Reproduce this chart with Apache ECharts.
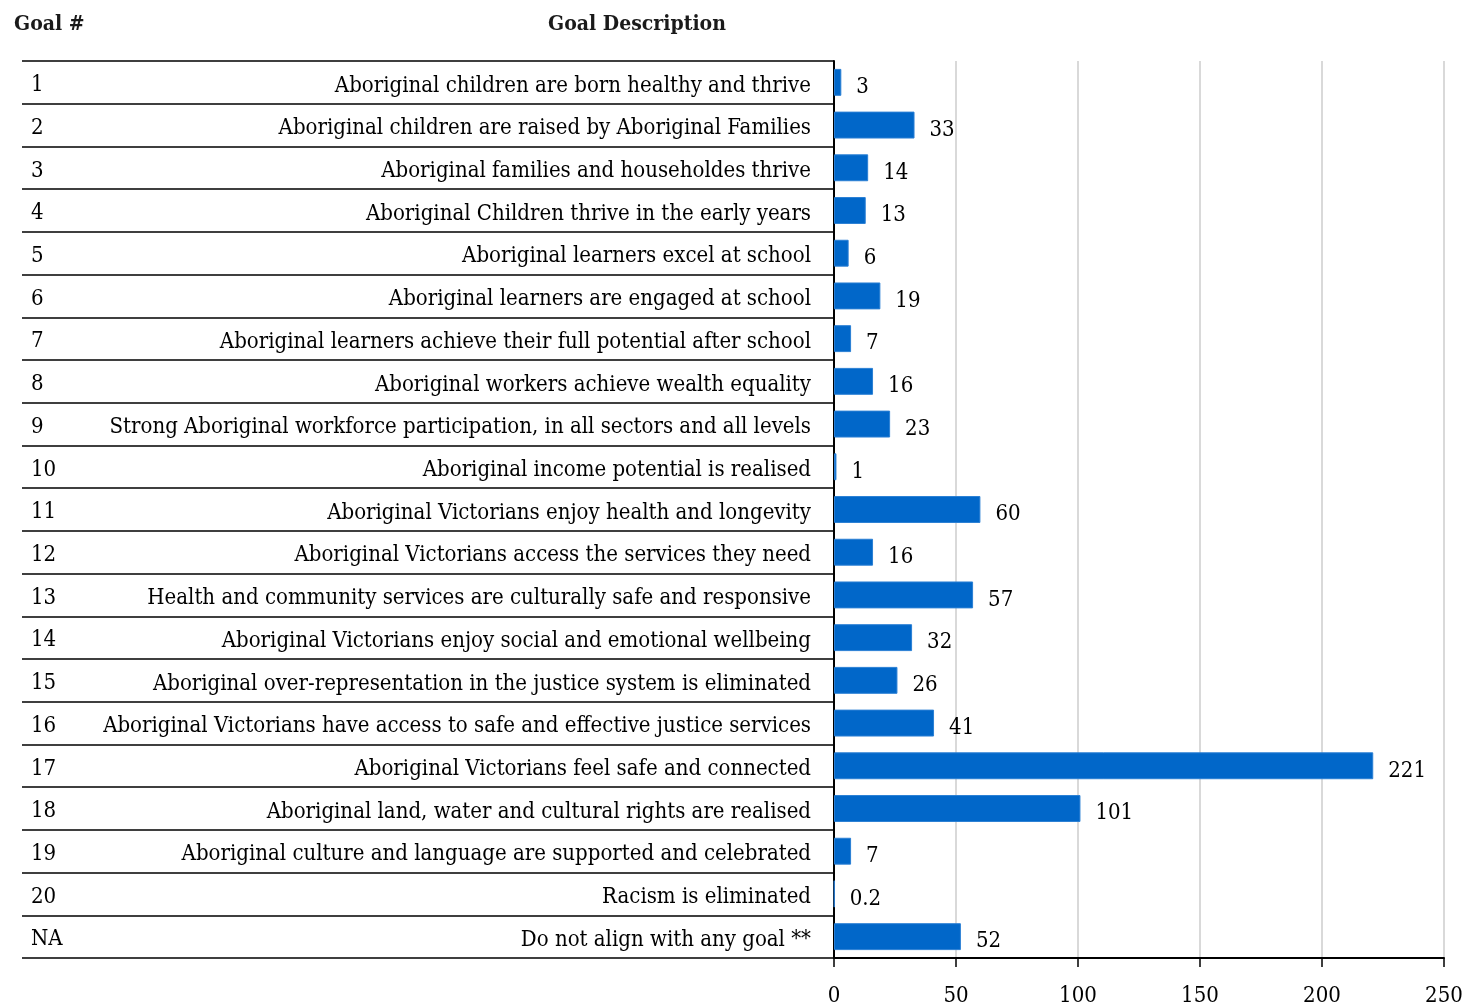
<!DOCTYPE html>
<html>
<head>
<meta charset="utf-8">
<script src="https://cdn.jsdelivr.net/npm/echarts@6/dist/echarts.min.js"></script>
<style>
html,body{margin:0;padding:0;background:#fff;}
#chart{width:1466px;height:1003px;}
</style>
</head>
<body>
<div id="chart"></div>
<script>
var goalNumbers = ['1','2','3','4','5','6','7','8','9','10','11','12','13','14','15','16','17','18','19','20','NA'];
var goalDescriptions = [
  'Aboriginal children are born healthy and thrive',
  'Aboriginal children are raised by Aboriginal Families',
  'Aboriginal families and householdes thrive',
  'Aboriginal Children thrive in the early years',
  'Aboriginal learners excel at school',
  'Aboriginal learners are engaged at school',
  'Aboriginal learners achieve their full potential after school',
  'Aboriginal workers achieve wealth equality',
  'Strong Aboriginal workforce participation, in all sectors and all levels',
  'Aboriginal income potential is realised',
  'Aboriginal Victorians enjoy health and longevity',
  'Aboriginal Victorians access the services they need',
  'Health and community services are culturally safe and responsive',
  'Aboriginal Victorians enjoy social and emotional wellbeing',
  'Aboriginal over-representation in the justice system is eliminated',
  'Aboriginal Victorians have access to safe and effective justice services',
  'Aboriginal Victorians feel safe and connected',
  'Aboriginal land, water and cultural rights are realised',
  'Aboriginal culture and language are supported and celebrated',
  'Racism is eliminated',
  'Do not align with any goal **'
];
var values = [3,33,14,13,6,19,7,16,23,1,60,16,57,32,26,41,221,101,7,0.2,52];
var headerGoal = 'Goal #';
var headerDesc = 'Goal Description';

var FONT = '"DejaVu Serif Condensed", "DejaVu Serif", serif';
var chart = echarts.init(document.getElementById('chart'), null, {renderer:'canvas'});
chart.setOption({
  animation:false,
  backgroundColor:'#fff',
  textStyle:{fontFamily:FONT},
  title:[
    {text:headerGoal, left:14, top:14, padding:0, textStyle:{fontFamily:FONT, fontSize:21, fontWeight:'bold', color:'#1a1a1a'}},
    {text:headerDesc, left:637, top:14, padding:0, textAlign:'center', textStyle:{fontFamily:FONT, fontSize:21, fontWeight:'bold', color:'#1a1a1a'}}
  ],
  grid:{left:834, right:22, top:61, bottom:45, containLabel:false, outerBoundsMode:'none'},
  xAxis:{
    type:'value', min:0, max:250, interval:50,
    axisLine:{show:true, lineStyle:{color:'#000', width:2}},
    axisTick:{show:true, length:9, lineStyle:{color:'#000', width:1.5}},
    axisLabel:{fontFamily:FONT, fontSize:22, color:'#000', margin:27},
    splitLine:{show:true, lineStyle:{color:'#d9d9d9', width:2}}
  },
  yAxis:[
    {
      type:'category', data:goalDescriptions, inverse:true, position:'left',
      axisLine:{show:true, onZero:false, lineStyle:{color:'#000', width:2}},
      axisTick:{show:true, length:812, lineStyle:{color:'#000', width:1.5}},
      axisLabel:{fontFamily:FONT, fontSize:22, color:'#000', margin:23, align:'right', verticalAlign:'top', lineHeight:7},
      splitLine:{show:false}
    },
    {
      type:'category', data:goalNumbers, inverse:true, position:'left', offset:803,
      axisLine:{show:false}, axisTick:{show:false},
      axisLabel:{fontFamily:FONT, fontSize:22, color:'#000', margin:0, align:'left', verticalAlign:'top', lineHeight:6}
    }
  ],
  series:[{
    type:'bar', data:values, yAxisIndex:0,
    barCategoryGap:'37%',
    itemStyle:{color:'#0167c9', borderColor:'#2a7fd4', borderWidth:1},
    label:{show:true, position:'right', distance:15, offset:[0,5], fontFamily:FONT, fontSize:22, color:'#000'}
  }]
});
</script>
</body>
</html>
